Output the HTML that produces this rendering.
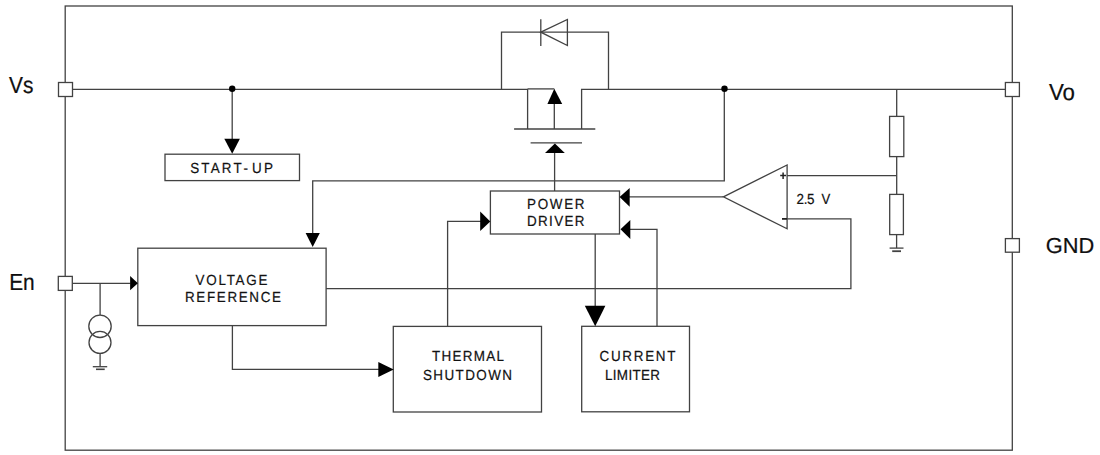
<!DOCTYPE html>
<html><head><meta charset="utf-8">
<style>
html,body{margin:0;padding:0;background:#fff;}
body{width:1100px;height:455px;overflow:hidden;}
svg{display:block;}
text{font-family:"Liberation Sans",sans-serif;fill:#111;text-rendering:geometricPrecision;}
</style></head><body>
<svg width="1100" height="455" viewBox="0 0 1100 455">
<g fill="none" stroke="#424242" stroke-width="1.3">
<!-- frame -->
<rect x="65.2" y="6" width="947.1" height="444.2"/>
<!-- Vs line to MOSFET -->
<polyline points="72.3,89.3 527.6,89.3 527.6,129"/>
<line x1="527.6" y1="88.9" x2="554.3" y2="88.9"/>
<line x1="554.3" y1="104" x2="554.3" y2="129"/>
<line x1="514.1" y1="129" x2="595.3" y2="129"/>
<polyline points="581.6,129 581.6,89.3 1005.4,89.3"/>
<!-- diode bypass -->
<polyline points="501.5,89.3 501.5,32.2 608.5,32.2 608.5,89.3"/>
<line x1="540.8" y1="19.2" x2="540.8" y2="46"/>
<polygon points="540.8,32.2 567.4,19.5 567.4,45.5"/>
<!-- gate -->
<line x1="530.6" y1="142.8" x2="582" y2="142.8"/>
<line x1="554.6" y1="153" x2="554.6" y2="191"/>
<!-- start-up -->
<line x1="232.2" y1="89" x2="232.2" y2="139"/>
<rect x="165" y="154.2" width="134.5" height="26.4"/>
<!-- Vo junction to VR -->
<polyline points="724.3,89 724.3,180.9 312.7,180.9 312.7,233.5"/>
<!-- voltage reference -->
<rect x="137.8" y="248.2" width="188.3" height="77.4"/>
<!-- En -->
<line x1="72.3" y1="283.3" x2="130.5" y2="283.3"/>
<line x1="100.1" y1="283.3" x2="100.1" y2="315.1"/>
<circle cx="100" cy="326.3" r="11.2"/>
<circle cx="100" cy="342.4" r="11"/>
<line x1="100.1" y1="353.4" x2="100.1" y2="366.7"/>
<line x1="92.8" y1="366.7" x2="107.2" y2="366.7"/>
<line x1="96" y1="369.3" x2="104.7" y2="369.3" stroke-width="1.6"/>
<!-- VR right to opamp - -->
<polyline points="326.1,288.7 850.9,288.7 850.9,218.9 787.1,218.9"/>
<!-- VR bottom to thermal -->
<polyline points="232.4,325.6 232.4,369.4 379,369.4"/>
<rect x="393.3" y="326.4" width="148.2" height="85.6"/>
<polyline points="447.6,326.4 447.6,221.4 481,221.4"/>
<!-- power driver -->
<rect x="490.4" y="191" width="129.1" height="43"/>
<line x1="595.2" y1="234" x2="595.2" y2="306.5"/>
<rect x="581.7" y="326.3" width="107.8" height="85.5"/>
<polyline points="657,326.3 657,229.3 629.5,229.3"/>
<!-- opamp -->
<polygon points="723.4,196.8 787.1,165 787.1,228.8"/>
<line x1="723.4" y1="196.8" x2="629" y2="196.8"/>
<line x1="787.1" y1="175.7" x2="896.7" y2="175.7"/>
<line x1="780.2" y1="175.5" x2="786" y2="175.5" stroke="#222" stroke-width="1.5"/>
<line x1="783.1" y1="172.6" x2="783.1" y2="179" stroke="#222" stroke-width="1.5"/>
<line x1="782" y1="218.9" x2="787" y2="218.9" stroke="#222" stroke-width="1.8"/>
<!-- resistor chain -->
<line x1="896.7" y1="89.3" x2="896.7" y2="116.4"/>
<rect x="889.6" y="116.4" width="14.2" height="40.2"/>
<line x1="896.7" y1="156.6" x2="896.7" y2="194.4"/>
<rect x="889.7" y="194.4" width="13.7" height="40.2"/>
<line x1="896.6" y1="234.6" x2="896.6" y2="248.1"/>
<line x1="889.6" y1="248.1" x2="903.5" y2="248.1"/>
<line x1="892.2" y1="251.2" x2="901" y2="251.2" stroke-width="1.8"/>
</g>
<!-- pins -->
<g fill="#fff" stroke="#424242" stroke-width="1.3">
<rect x="58.5" y="82.5" width="14" height="14"/>
<rect x="58.3" y="276.4" width="14" height="14"/>
<rect x="1005.4" y="82.5" width="14" height="14"/>
<rect x="1005.4" y="238.6" width="14" height="13.6"/>
</g>
<!-- arrows & dots -->
<g fill="#000" stroke="none">
<circle cx="232.2" cy="88.8" r="3.2"/>
<circle cx="724.5" cy="88.8" r="3.2"/>
<polygon points="224.3,138.8 239.9,138.8 232.2,153.8"/>
<polygon points="554.3,88.8 547.4,104 562.2,104"/>
<polygon points="554.9,143.6 545,153.1 564.8,153.1"/>
<polygon points="305.6,233 319.8,233 312.7,247"/>
<polygon points="130.1,276 130.1,290.3 137.9,283.3"/>
<polygon points="378.3,362 378.3,377 393.7,369.4"/>
<polygon points="480.2,211.5 480.2,231.1 490.3,221.4"/>
<polygon points="584.8,305.7 605.4,305.7 595.2,326.2"/>
<polygon points="630.3,220 630.3,238.9 620.5,229.3"/>
<polygon points="629.7,187.9 629.7,206.7 619.6,197.1"/>
</g>
<!-- labels -->
<g font-size="23.2" fill="#000" stroke="#000" stroke-width="0.2">
<text transform="translate(9,93.1) scale(0.9,1)">Vs</text>
<text transform="translate(1048.9,99.6) scale(0.96,1)">Vo</text>
<text transform="translate(9.2,290) scale(0.9,1)">En</text>
<text transform="translate(1045.8,253.2) scale(0.94,0.94)">GND</text>
</g>
<g font-size="14.6" fill="#111" stroke="#111" stroke-width="0.22">
<text transform="translate(190.2,172.6) scale(0.92,1)" textLength="55.98" lengthAdjust="spacing">START</text>
<text transform="translate(243.6,172.6) scale(0.92,1)">-</text>
<text transform="translate(252,172.6) scale(0.92,1)" textLength="22.83" lengthAdjust="spacing">UP</text>
<text transform="translate(527,208.8) scale(0.92,1)" textLength="62.5" lengthAdjust="spacing">POWER</text>
<text transform="translate(527,225.8) scale(0.92,1)" textLength="62.5" lengthAdjust="spacing">DRIVER</text>
<text transform="translate(195.5,284.6) scale(0.92,1)" textLength="78.26" lengthAdjust="spacing">VOLTAGE</text>
<text transform="translate(185,301.6) scale(0.92,1)" textLength="104.35" lengthAdjust="spacing">REFERENCE</text>
<text transform="translate(432,360.8) scale(0.92,1)" textLength="78.26" lengthAdjust="spacing">THERMAL</text>
<text transform="translate(423,379.9) scale(0.92,1)" textLength="96.74" lengthAdjust="spacing">SHUTDOWN</text>
<text transform="translate(599.5,360.7) scale(0.92,1)" textLength="82.61" lengthAdjust="spacing">CURRENT</text>
<text transform="translate(605,380.3) scale(0.92,1)" textLength="59.78" lengthAdjust="spacing">LIMITER</text>
<text transform="translate(796.5,203.8) scale(0.92,1)" textLength="19.6" lengthAdjust="spacing">2.5</text>
<text transform="translate(821.5,203.8) scale(0.9,1)">V</text>
</g>
</svg>
</body></html>
